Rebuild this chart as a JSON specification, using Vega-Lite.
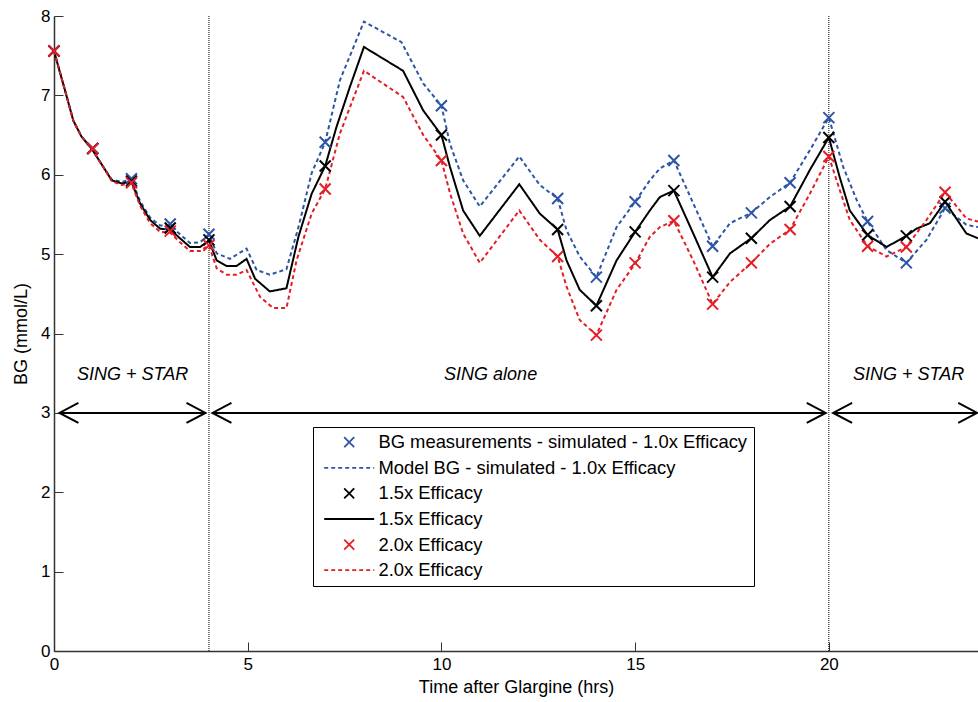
{
  "$schema": "https://vega.github.io/schema/vega-lite/v6.json",
  "width": 924,
  "height": 635,
  "autosize": {"type": "none"},
  "padding": {"left": 54, "top": 16, "right": 0, "bottom": 51},
  "background": "white",
  "config": {
    "view": {"stroke": null},
    "font": "Liberation Sans",
    "axis": {
      "grid": false,
      "domainColor": "#333333",
      "domainWidth": 1.5,
      "tickColor": "#333333",
      "tickWidth": 1,
      "tickSize": -9,
      "labelFlush": false,
      "labelFont": "Liberation Sans",
      "labelFontSize": 17,
      "labelColor": "black",
      "titleFont": "Liberation Sans",
      "titleFontSize": 18,
      "titleFontWeight": "normal",
      "titleColor": "black"
    },
    "legend": {
      "labelFont": "Liberation Sans",
      "labelFontSize": 18.4,
      "labelColor": "black",
      "labelLimit": 0,
      "symbolSize": 100,
      "symbolStrokeWidth": 1.8,
      "symbolFillColor": "transparent",
      "strokeColor": "black",
      "fillColor": "white",
      "padding": 6,
      "symbolOffset": 21,
      "labelOffset": 20,
      "rowPadding": 6.6
    }
  },
  "datasets": {
    "lines": [
      {"series": "l10", "t": 0, "v": 7.56}, {"series": "l10", "t": 0.28, "v": 7.07}, {"series": "l10", "t": 0.5, "v": 6.68}, {"series": "l10", "t": 0.71, "v": 6.48}, {"series": "l10", "t": 0.97, "v": 6.33}, {"series": "l10", "t": 1.27, "v": 6.1}, {"series": "l10", "t": 1.49, "v": 5.94}, {"series": "l10", "t": 1.75, "v": 5.91}, {"series": "l10", "t": 2.0, "v": 5.94}, {"series": "l10", "t": 2.22, "v": 5.67}, {"series": "l10", "t": 2.48, "v": 5.46}, {"series": "l10", "t": 2.74, "v": 5.36}, {"series": "l10", "t": 3.0, "v": 5.36}, {"series": "l10", "t": 3.25, "v": 5.25}, {"series": "l10", "t": 3.51, "v": 5.14}, {"series": "l10", "t": 3.77, "v": 5.15}, {"series": "l10", "t": 4.0, "v": 5.24}, {"series": "l10", "t": 4.2, "v": 5.01}, {"series": "l10", "t": 4.54, "v": 4.94}, {"series": "l10", "t": 4.97, "v": 5.07}, {"series": "l10", "t": 5.23, "v": 4.8}, {"series": "l10", "t": 5.57, "v": 4.74}, {"series": "l10", "t": 6.0, "v": 4.81}, {"series": "l10", "t": 6.31, "v": 5.34}, {"series": "l10", "t": 6.65, "v": 6.02}, {"series": "l10", "t": 7.0, "v": 6.41}, {"series": "l10", "t": 7.38, "v": 7.19}, {"series": "l10", "t": 8.0, "v": 7.93}, {"series": "l10", "t": 8.97, "v": 7.67}, {"series": "l10", "t": 9.53, "v": 7.15}, {"series": "l10", "t": 10.0, "v": 6.87}, {"series": "l10", "t": 10.22, "v": 6.39}, {"series": "l10", "t": 10.56, "v": 5.93}, {"series": "l10", "t": 10.99, "v": 5.6}, {"series": "l10", "t": 12.01, "v": 6.23}, {"series": "l10", "t": 12.54, "v": 5.87}, {"series": "l10", "t": 13.0, "v": 5.7}, {"series": "l10", "t": 13.23, "v": 5.3}, {"series": "l10", "t": 13.57, "v": 4.97}, {"series": "l10", "t": 14.0, "v": 4.71}, {"series": "l10", "t": 14.52, "v": 5.34}, {"series": "l10", "t": 15.0, "v": 5.66}, {"series": "l10", "t": 15.38, "v": 5.93}, {"series": "l10", "t": 15.64, "v": 6.08}, {"series": "l10", "t": 16.0, "v": 6.18}, {"series": "l10", "t": 16.5, "v": 5.64}, {"series": "l10", "t": 17.0, "v": 5.1}, {"series": "l10", "t": 17.45, "v": 5.39}, {"series": "l10", "t": 18.0, "v": 5.52}, {"series": "l10", "t": 18.48, "v": 5.72}, {"series": "l10", "t": 19.0, "v": 5.9}, {"series": "l10", "t": 19.51, "v": 6.31}, {"series": "l10", "t": 20.0, "v": 6.72}, {"series": "l10", "t": 20.37, "v": 6.1}, {"series": "l10", "t": 20.72, "v": 5.68}, {"series": "l10", "t": 21.0, "v": 5.41}, {"series": "l10", "t": 21.49, "v": 5.05}, {"series": "l10", "t": 22.0, "v": 4.89}, {"series": "l10", "t": 22.52, "v": 5.18}, {"series": "l10", "t": 23.0, "v": 5.58}, {"series": "l10", "t": 23.55, "v": 5.37}, {"series": "l10", "t": 23.85, "v": 5.34},
      {"series": "l15", "t": 0, "v": 7.56}, {"series": "l15", "t": 0.28, "v": 7.07}, {"series": "l15", "t": 0.5, "v": 6.68}, {"series": "l15", "t": 0.71, "v": 6.48}, {"series": "l15", "t": 0.97, "v": 6.33}, {"series": "l15", "t": 1.27, "v": 6.1}, {"series": "l15", "t": 1.49, "v": 5.93}, {"series": "l15", "t": 1.75, "v": 5.89}, {"series": "l15", "t": 2.0, "v": 5.91}, {"series": "l15", "t": 2.22, "v": 5.64}, {"series": "l15", "t": 2.48, "v": 5.43}, {"series": "l15", "t": 2.74, "v": 5.32}, {"series": "l15", "t": 3.0, "v": 5.31}, {"series": "l15", "t": 3.25, "v": 5.2}, {"series": "l15", "t": 3.51, "v": 5.09}, {"series": "l15", "t": 3.77, "v": 5.09}, {"series": "l15", "t": 4.0, "v": 5.17}, {"series": "l15", "t": 4.2, "v": 4.92}, {"series": "l15", "t": 4.46, "v": 4.85}, {"series": "l15", "t": 4.71, "v": 4.85}, {"series": "l15", "t": 4.97, "v": 4.94}, {"series": "l15", "t": 5.19, "v": 4.69}, {"series": "l15", "t": 5.57, "v": 4.53}, {"series": "l15", "t": 6.0, "v": 4.57}, {"series": "l15", "t": 6.31, "v": 5.22}, {"series": "l15", "t": 6.65, "v": 5.76}, {"series": "l15", "t": 7.0, "v": 6.11}, {"series": "l15", "t": 7.29, "v": 6.6}, {"series": "l15", "t": 7.64, "v": 7.11}, {"series": "l15", "t": 8.0, "v": 7.61}, {"series": "l15", "t": 9.01, "v": 7.31}, {"series": "l15", "t": 9.53, "v": 6.81}, {"series": "l15", "t": 10.0, "v": 6.5}, {"series": "l15", "t": 10.22, "v": 6.1}, {"series": "l15", "t": 10.56, "v": 5.55}, {"series": "l15", "t": 10.99, "v": 5.23}, {"series": "l15", "t": 12.01, "v": 5.88}, {"series": "l15", "t": 12.54, "v": 5.51}, {"series": "l15", "t": 13.0, "v": 5.31}, {"series": "l15", "t": 13.23, "v": 4.92}, {"series": "l15", "t": 13.57, "v": 4.55}, {"series": "l15", "t": 14.0, "v": 4.35}, {"series": "l15", "t": 14.52, "v": 4.92}, {"series": "l15", "t": 15.0, "v": 5.28}, {"series": "l15", "t": 15.38, "v": 5.55}, {"series": "l15", "t": 15.64, "v": 5.72}, {"series": "l15", "t": 16.0, "v": 5.8}, {"series": "l15", "t": 16.5, "v": 5.26}, {"series": "l15", "t": 17.0, "v": 4.71}, {"series": "l15", "t": 17.45, "v": 5.01}, {"series": "l15", "t": 18.0, "v": 5.2}, {"series": "l15", "t": 18.48, "v": 5.43}, {"series": "l15", "t": 19.0, "v": 5.6}, {"series": "l15", "t": 19.51, "v": 6.06}, {"series": "l15", "t": 20.0, "v": 6.47}, {"series": "l15", "t": 20.28, "v": 5.97}, {"series": "l15", "t": 20.54, "v": 5.55}, {"series": "l15", "t": 21.0, "v": 5.24}, {"series": "l15", "t": 21.49, "v": 5.09}, {"series": "l15", "t": 22.0, "v": 5.23}, {"series": "l15", "t": 22.26, "v": 5.32}, {"series": "l15", "t": 22.61, "v": 5.39}, {"series": "l15", "t": 23.0, "v": 5.66}, {"series": "l15", "t": 23.55, "v": 5.26}, {"series": "l15", "t": 23.85, "v": 5.2},
      {"series": "l20", "t": 0, "v": 7.56}, {"series": "l20", "t": 0.28, "v": 7.07}, {"series": "l20", "t": 0.5, "v": 6.68}, {"series": "l20", "t": 0.71, "v": 6.48}, {"series": "l20", "t": 0.97, "v": 6.33}, {"series": "l20", "t": 1.27, "v": 6.1}, {"series": "l20", "t": 1.49, "v": 5.92}, {"series": "l20", "t": 1.75, "v": 5.87}, {"series": "l20", "t": 2.0, "v": 5.89}, {"series": "l20", "t": 2.22, "v": 5.61}, {"series": "l20", "t": 2.48, "v": 5.39}, {"series": "l20", "t": 2.74, "v": 5.28}, {"series": "l20", "t": 3.0, "v": 5.27}, {"series": "l20", "t": 3.25, "v": 5.15}, {"series": "l20", "t": 3.51, "v": 5.04}, {"series": "l20", "t": 3.77, "v": 5.04}, {"series": "l20", "t": 4.0, "v": 5.11}, {"series": "l20", "t": 4.2, "v": 4.82}, {"series": "l20", "t": 4.46, "v": 4.74}, {"series": "l20", "t": 4.71, "v": 4.74}, {"series": "l20", "t": 4.97, "v": 4.8}, {"series": "l20", "t": 5.32, "v": 4.46}, {"series": "l20", "t": 5.66, "v": 4.32}, {"series": "l20", "t": 6.0, "v": 4.32}, {"series": "l20", "t": 6.26, "v": 4.92}, {"series": "l20", "t": 6.65, "v": 5.51}, {"series": "l20", "t": 7.0, "v": 5.82}, {"series": "l20", "t": 7.38, "v": 6.52}, {"series": "l20", "t": 8.0, "v": 7.31}, {"series": "l20", "t": 9.01, "v": 6.98}, {"series": "l20", "t": 9.53, "v": 6.5}, {"series": "l20", "t": 10.0, "v": 6.18}, {"series": "l20", "t": 10.22, "v": 5.77}, {"series": "l20", "t": 10.56, "v": 5.26}, {"series": "l20", "t": 10.99, "v": 4.89}, {"series": "l20", "t": 12.01, "v": 5.55}, {"series": "l20", "t": 12.54, "v": 5.18}, {"series": "l20", "t": 13.0, "v": 4.97}, {"series": "l20", "t": 13.23, "v": 4.59}, {"series": "l20", "t": 13.57, "v": 4.17}, {"series": "l20", "t": 14.0, "v": 3.98}, {"series": "l20", "t": 14.52, "v": 4.55}, {"series": "l20", "t": 15.0, "v": 4.88}, {"series": "l20", "t": 15.38, "v": 5.22}, {"series": "l20", "t": 15.64, "v": 5.34}, {"series": "l20", "t": 16.0, "v": 5.42}, {"series": "l20", "t": 16.5, "v": 4.92}, {"series": "l20", "t": 17.0, "v": 4.37}, {"series": "l20", "t": 17.45, "v": 4.65}, {"series": "l20", "t": 18.0, "v": 4.89}, {"series": "l20", "t": 18.48, "v": 5.13}, {"series": "l20", "t": 19.0, "v": 5.31}, {"series": "l20", "t": 19.51, "v": 5.76}, {"series": "l20", "t": 20.0, "v": 6.23}, {"series": "l20", "t": 20.28, "v": 5.81}, {"series": "l20", "t": 20.54, "v": 5.43}, {"series": "l20", "t": 21.0, "v": 5.1}, {"series": "l20", "t": 21.49, "v": 4.97}, {"series": "l20", "t": 22.0, "v": 5.09}, {"series": "l20", "t": 22.52, "v": 5.43}, {"series": "l20", "t": 23.0, "v": 5.78}, {"series": "l20", "t": 23.55, "v": 5.45}, {"series": "l20", "t": 23.85, "v": 5.41}
    ],
    "meas": [
      {"series": "m10", "t": 0, "v": 7.56}, {"series": "m10", "t": 1, "v": 6.33}, {"series": "m10", "t": 2, "v": 5.95}, {"series": "m10", "t": 3, "v": 5.38}, {"series": "m10", "t": 4, "v": 5.25}, {"series": "m10", "t": 7, "v": 6.41}, {"series": "m10", "t": 10, "v": 6.87}, {"series": "m10", "t": 13, "v": 5.7}, {"series": "m10", "t": 14, "v": 4.71}, {"series": "m10", "t": 15, "v": 5.66}, {"series": "m10", "t": 16, "v": 6.18}, {"series": "m10", "t": 17, "v": 5.1}, {"series": "m10", "t": 18, "v": 5.52}, {"series": "m10", "t": 19, "v": 5.9}, {"series": "m10", "t": 20, "v": 6.72}, {"series": "m10", "t": 21, "v": 5.41}, {"series": "m10", "t": 22, "v": 4.89}, {"series": "m10", "t": 23, "v": 5.58},
      {"series": "m15", "t": 0, "v": 7.56}, {"series": "m15", "t": 1, "v": 6.33}, {"series": "m15", "t": 2, "v": 5.92}, {"series": "m15", "t": 3, "v": 5.33}, {"series": "m15", "t": 4, "v": 5.18}, {"series": "m15", "t": 7, "v": 6.11}, {"series": "m15", "t": 10, "v": 6.5}, {"series": "m15", "t": 13, "v": 5.31}, {"series": "m15", "t": 14, "v": 4.35}, {"series": "m15", "t": 15, "v": 5.28}, {"series": "m15", "t": 16, "v": 5.8}, {"series": "m15", "t": 17, "v": 4.71}, {"series": "m15", "t": 18, "v": 5.2}, {"series": "m15", "t": 19, "v": 5.6}, {"series": "m15", "t": 20, "v": 6.47}, {"series": "m15", "t": 21, "v": 5.24}, {"series": "m15", "t": 22, "v": 5.23}, {"series": "m15", "t": 23, "v": 5.66},
      {"series": "m20", "t": 0, "v": 7.56}, {"series": "m20", "t": 1, "v": 6.33}, {"series": "m20", "t": 2, "v": 5.9}, {"series": "m20", "t": 3, "v": 5.29}, {"series": "m20", "t": 4, "v": 5.11}, {"series": "m20", "t": 7, "v": 5.82}, {"series": "m20", "t": 10, "v": 6.18}, {"series": "m20", "t": 13, "v": 4.97}, {"series": "m20", "t": 14, "v": 3.98}, {"series": "m20", "t": 15, "v": 4.89}, {"series": "m20", "t": 16, "v": 5.42}, {"series": "m20", "t": 17, "v": 4.37}, {"series": "m20", "t": 18, "v": 4.89}, {"series": "m20", "t": 19, "v": 5.31}, {"series": "m20", "t": 20, "v": 6.23}, {"series": "m20", "t": 21, "v": 5.1}, {"series": "m20", "t": 22, "v": 5.09}, {"series": "m20", "t": 23, "v": 5.78}
    ],
    "phases": [{"t": 4}, {"t": 20}],
    "arrows": [{"x1": 0.14, "x2": 3.91}, {"x1": 4.09, "x2": 19.92}, {"x1": 20.11, "x2": 23.83}],
    "labels": [{"t": 2.03, "v": 3.48, "label": "SING + STAR"}, {"t": 11.27, "v": 3.48, "label": "SING alone"}, {"t": 22.06, "v": 3.48, "label": "SING + STAR"}]
  },
  "layer": [
    {
      "data": {"name": "phases"},
      "mark": {"type": "rule", "color": "black", "strokeWidth": 1, "strokeDash": [1, 1]},
      "encoding": {
        "x": {"field": "t", "type": "quantitative", "scale": {"domain": [0, 23.85], "nice": false, "zero": false},
              "axis": {"title": "Time after Glargine (hrs)", "values": [0, 5, 10, 15, 20], "format": "d", "labelPadding": 14, "titlePadding": 6}},
        "y": {"datum": 0, "type": "quantitative", "scale": {"domain": [0, 8], "nice": false},
              "axis": {"title": "BG (mmol/L)", "values": [0, 1, 2, 3, 4, 5, 6, 7, 8], "format": "d", "labelPadding": 13, "titlePadding": 10}},
        "y2": {"datum": 8}
      }
    },
    {
      "data": {"name": "arrows"},
      "mark": {"type": "rule", "color": "black", "strokeWidth": 2},
      "encoding": {
        "x": {"field": "x1", "type": "quantitative"},
        "x2": {"field": "x2"},
        "y": {"datum": 3, "type": "quantitative"}
      }
    },
    {
      "data": {"name": "arrows"},
      "mark": {"type": "point", "shape": "M 1 -0.53 L 0 0 L 1 0.53", "size": 1444, "filled": false, "stroke": "black", "strokeWidth": 2, "opacity": 1},
      "encoding": {
        "x": {"field": "x1", "type": "quantitative"},
        "y": {"datum": 3, "type": "quantitative"}
      }
    },
    {
      "data": {"name": "arrows"},
      "mark": {"type": "point", "shape": "M -1 -0.53 L 0 0 L -1 0.53", "size": 1444, "filled": false, "stroke": "black", "strokeWidth": 2, "opacity": 1},
      "encoding": {
        "x": {"field": "x2", "type": "quantitative"},
        "y": {"datum": 3, "type": "quantitative"}
      }
    },
    {
      "data": {"name": "labels"},
      "mark": {"type": "text", "font": "Liberation Sans", "fontSize": 18, "fontStyle": "italic", "align": "center", "baseline": "middle", "color": "black"},
      "encoding": {
        "x": {"field": "t", "type": "quantitative"},
        "y": {"field": "v", "type": "quantitative"},
        "text": {"field": "label"}
      }
    },
    {
      "data": {"name": "lines"},
      "mark": {"type": "line", "strokeWidth": 2},
      "encoding": {
        "x": {"field": "t", "type": "quantitative"},
        "y": {"field": "v", "type": "quantitative"},
        "color": {"field": "series", "type": "nominal",
          "scale": {"domain": ["m10", "l10", "m15", "l15", "m20", "l20"], "range": ["#2d55a5", "#2d55a5", "#000000", "#000000", "#e41e26", "#e41e26"]},
          "legend": {"title": null, "orient": "none", "legendX": 259, "legendY": 411,
            "labelExpr": "datum.label == 'm10' ? 'BG measurements - simulated - 1.0x Efficacy' : datum.label == 'l10' ? 'Model BG - simulated - 1.0x Efficacy' : (datum.label == 'm15' || datum.label == 'l15') ? '1.5x Efficacy' : '2.0x Efficacy'"}},
        "strokeDash": {"field": "series", "type": "nominal",
          "scale": {"domain": ["m10", "l10", "m15", "l15", "m20", "l20"], "range": [[1, 0], [4, 3], [1, 0], [1, 0], [1, 0], [4, 3]]},
          "legend": {"title": null, "orient": "none", "legendX": 259, "legendY": 411,
            "labelExpr": "datum.label == 'm10' ? 'BG measurements - simulated - 1.0x Efficacy' : datum.label == 'l10' ? 'Model BG - simulated - 1.0x Efficacy' : (datum.label == 'm15' || datum.label == 'l15') ? '1.5x Efficacy' : '2.0x Efficacy'"}}
      }
    },
    {
      "data": {"name": "meas"},
      "mark": {"type": "point", "filled": false, "size": 121, "strokeWidth": 2, "opacity": 1},
      "encoding": {
        "x": {"field": "t", "type": "quantitative"},
        "y": {"field": "v", "type": "quantitative"},
        "color": {"field": "series", "type": "nominal"},
        "shape": {"field": "series", "type": "nominal",
          "scale": {"domain": ["m10", "l10", "m15", "l15", "m20", "l20"], "range": ["M -1 -1 L 1 1 M -1 1 L 1 -1", "M -5 0 L 5 0", "M -1 -1 L 1 1 M -1 1 L 1 -1", "M -5 0 L 5 0", "M -1 -1 L 1 1 M -1 1 L 1 -1", "M -5 0 L 5 0"]},
          "legend": {"title": null, "orient": "none", "legendX": 259, "legendY": 411,
            "labelExpr": "datum.label == 'm10' ? 'BG measurements - simulated - 1.0x Efficacy' : datum.label == 'l10' ? 'Model BG - simulated - 1.0x Efficacy' : (datum.label == 'm15' || datum.label == 'l15') ? '1.5x Efficacy' : '2.0x Efficacy'"}}
      }
    }
  ]
}
